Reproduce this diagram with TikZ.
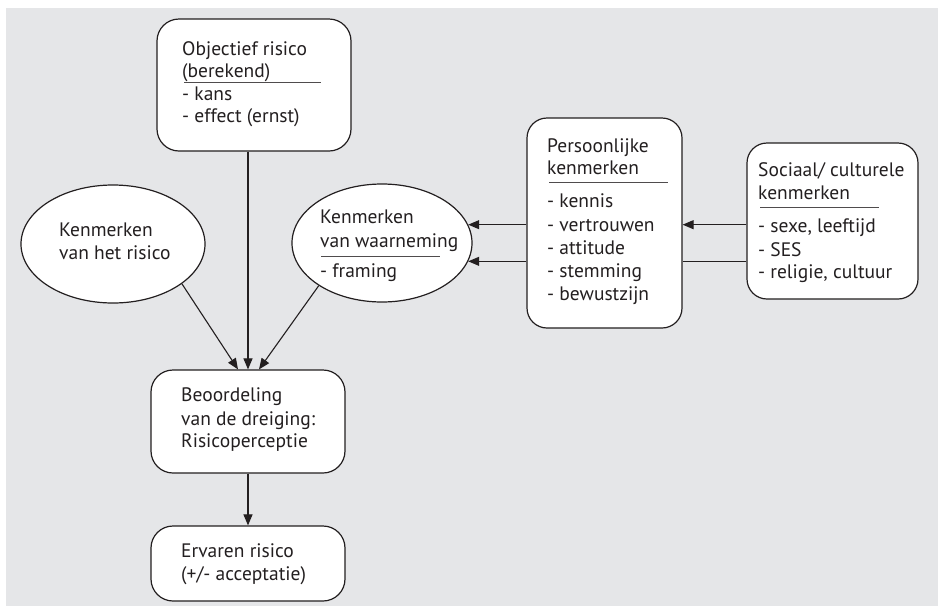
\documentclass[tikz,border=0pt]{standalone}
\usepackage{fontspec}
\setmainfont{PT Sans}
\usetikzlibrary{arrows.meta,shapes.geometric}
\definecolor{ink}{HTML}{231F20}
\definecolor{panel}{HTML}{E5E6E8}
\tikzset{
  box/.style={draw=ink, line width=1.2pt, fill=white, rounded corners=22pt, inner sep=0pt},
  oval/.style={ellipse, draw=ink, line width=1.2pt, fill=white, inner sep=0pt},
  line/.style={anchor=base west, inner sep=0pt, text=ink, font=\fontsize{19.5}{23}\selectfont},
  rulebar/.style={draw=ink!80, line width=0.9pt},
  conn/.style={draw=ink, line width=1.1pt},
  arr/.style={conn, -{Triangle[length=11pt,width=9pt]}},
}
\begin{document}
\begin{tikzpicture}[x=1pt,y=-1pt]
\useasboundingbox (0,0) rectangle (938,606);
\fill[panel] (6,8) rectangle (938,606);

% boxes and ellipses
\node[box, minimum width=194pt, minimum height=132pt] (obj) at (254,85) {};
\node[oval, minimum width=184pt, minimum height=118pt] (ell1) at (113,244) {};
\node[oval, minimum width=180pt, minimum height=118pt] (ell2) at (382,243) {};
\node[box, rounded corners=20pt, minimum width=155pt, minimum height=210pt] (pers) at (604.5,223) {};
\node[box, rounded corners=20pt, minimum width=171pt, minimum height=156pt] (soc) at (832.5,221) {};
\node[box, minimum width=194pt, minimum height=103pt] (beo) at (248,421.5) {};
\node[box, minimum width=194pt, minimum height=75pt] (erv) at (248,563.5) {};

% texts
\node[line] (o1) at (182,55) {Objectief risico};
\node[line] (o2) at (182,77) {(berekend)};
\node[line] (o3) at (182,100) {- kans};
\node[line] (o4) at (182,122) {- effect (ernst)};
\draw[rulebar] (184,82) -- (321,82);

\node[line] (k1) at (59,236) {Kenmerken};
\node[line] (k2) at (59,259) {van het risico};

\node[line] (w1) at (320,223) {Kenmerken};
\node[line] (w2) at (320,247) {van waarneming};
\node[line] (w3) at (320,277) {- framing};
\draw[rulebar] (321,256) -- (440,256);

\node[line] (p1) at (547,152) {Persoonlijke};
\node[line] (p2) at (547,174) {kenmerken};
\node[line] (p3) at (547,207) {- kennis};
\node[line] (p4) at (547,231) {- vertrouwen};
\node[line] (p5) at (547,254) {- attitude};
\node[line] (p6) at (547,277) {- stemming};
\node[line] (p7) at (547,300) {- bewustzijn};
\draw[rulebar] (549,182) -- (668,182);

\node[line] (s1) at (758,176) {Sociaal/ culturele};
\node[line] (s2) at (758,199) {kenmerken};
\node[line] (s3) at (758,232) {- sexe, leeftijd};
\node[line] (s4) at (758,256) {- SES};
\node[line] (s5) at (758,278) {- religie, cultuur};
\draw[rulebar] (760,207) -- (879,207);

\node[line] (b1) at (181,401) {Beoordeling};
\node[line] (b2) at (181,425) {van de dreiging:};
\node[line] (b3) at (181,447) {Risicoperceptie};

\node[line] (e1) at (181,557) {Ervaren risico};
\node[line] (e2) at (181,580) {(+/- acceptatie)};

% connectors
\coordinate (bl) at ([xshift=-10pt]beo.north);
\coordinate (br) at ([xshift=11pt]beo.north);
\draw[arr] (obj.south -| beo.north) -- (beo.north);
\draw[arr] (ell1.-30) -- (bl);
\draw[arr] (ell2.-146) -- (br);
\draw[arr] (pers.west |- ell2.12) -- (ell2.12);
\draw[arr] (pers.west |- ell2.-12) -- (ell2.-12);
\draw[arr] (soc.west |- ell2.12) -- (pers.east |- ell2.12);
\draw[conn] (soc.west |- ell2.-12) -- (pers.east |- ell2.-12);
\draw[arr] (beo.south) -- (erv.north);
\end{tikzpicture}
\end{document}
